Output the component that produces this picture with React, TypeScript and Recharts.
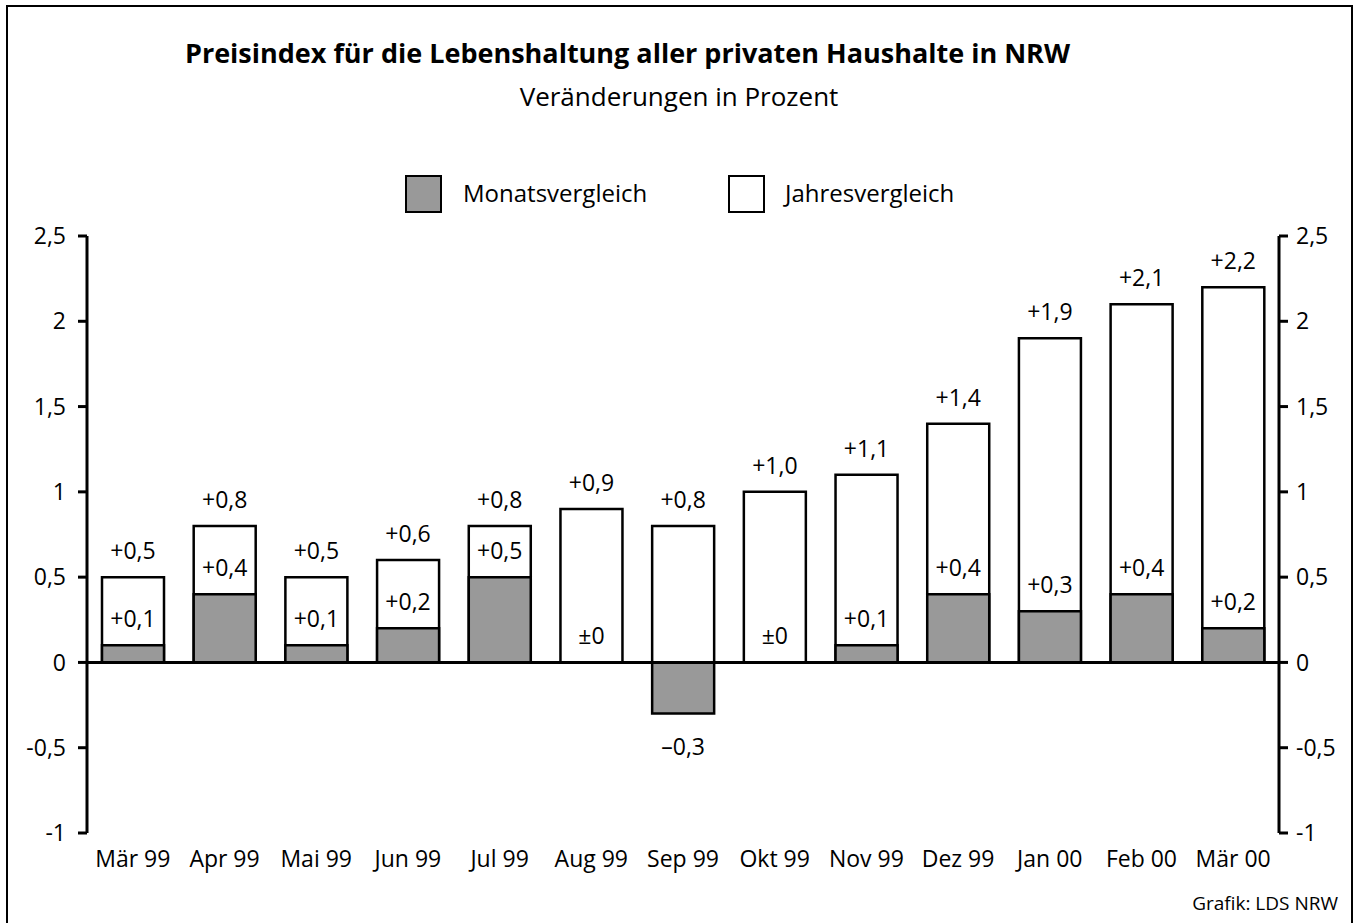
import React from "react";
import { BarChart, Bar, XAxis, YAxis, ReferenceLine, LabelList } from "recharts";

const categories = ["Mär 99", "Apr 99", "Mai 99", "Jun 99", "Jul 99", "Aug 99", "Sep 99", "Okt 99", "Nov 99", "Dez 99", "Jan 00", "Feb 00", "Mär 00"];
const monatsvergleich = [0.1, 0.4, 0.1, 0.2, 0.5, 0, -0.3, 0, 0.1, 0.4, 0.3, 0.4, 0.2];
const jahresvergleich = [0.5, 0.8, 0.5, 0.6, 0.8, 0.9, 0.8, 1.0, 1.1, 1.4, 1.9, 2.1, 2.2];
const yTicks = [-1, -0.5, 0, 0.5, 1, 1.5, 2, 2.5];

const data = categories.map((c, i) => ({ name: c, monat: monatsvergleich[i], jahr: jahresvergleich[i] }));

const FONT = "'Open Sans', sans-serif";
const LABEL_SIZE = 23;

const fmtSigned = (v: number) => {
  if (v === 0) return "±0";
  const s = Math.abs(v).toFixed(1).replace(".", ",");
  return v > 0 ? "+" + s : "–" + s;
};
const fmtTick = (v: number) => String(v).replace(".", ",");

const YearLabel = (props: any) => {
  const { x, y, width, height, value } = props;
  const top = Math.min(y, y + height);
  return (
    <text x={x + width / 2} y={top - 27} textAnchor="middle" dominantBaseline="central" fontSize={LABEL_SIZE} fontFamily={FONT} fill="#000">
      {fmtSigned(value)}
    </text>
  );
};

// monthly labels positioned using the yearly bar's geometry (scale derived from the rendered bar)
const MonthLabel = (props: any) => {
  const { x, y, width, height, value, index } = props;
  const top = Math.min(y, y + height);
  const h = Math.abs(height);
  const zero = top + h;
  const ppu = h / value;
  const m = monatsvergleich[index];
  const mPix = zero - m * ppu;
  const ty = m < 0 ? mPix + 32 : mPix - 27;
  return (
    <text x={x + width / 2} y={ty} textAnchor="middle" dominantBaseline="central" fontSize={LABEL_SIZE} fontFamily={FONT} fill="#000">
      {fmtSigned(m)}
    </text>
  );
};

const tickStyle = { fontSize: 23, fontFamily: FONT, fill: "#000" };

export default function App() {
  return (
    <div style={{ position: "absolute", left: 0, top: 0, width: 1358, height: 923, background: "#fff", fontFamily: FONT, overflow: "hidden" }}>
      <div style={{ position: "absolute", left: 6, top: 5, width: 1343, height: 940, border: "2px solid #000" }} />
      <div style={{ position: "absolute", left: 0, width: 1255, top: 35, textAlign: "center", fontSize: 27, fontWeight: 700, lineHeight: "36px", whiteSpace: "nowrap" }}>
        Preisindex für die Lebenshaltung aller privaten Haushalte in NRW
      </div>
      <div style={{ position: "absolute", left: 0, width: 1358, top: 79, textAlign: "center", fontSize: 26, lineHeight: "34px" }}>
        Veränderungen in Prozent
      </div>
      <div style={{ position: "absolute", left: 405, top: 175, width: 33, height: 34, background: "#999999", border: "2.5px solid #000" }} />
      <div style={{ position: "absolute", left: 463, top: 177, fontSize: 24, lineHeight: "32px" }}>Monatsvergleich</div>
      <div style={{ position: "absolute", left: 728, top: 175, width: 33, height: 34, background: "#fff", border: "2.5px solid #000" }} />
      <div style={{ position: "absolute", left: 785, top: 177, fontSize: 24, lineHeight: "32px" }}>Jahresvergleich</div>
      <div style={{ position: "absolute", right: 20, top: 891, fontSize: 19, lineHeight: "24px" }}>Grafik: LDS NRW</div>
      <div style={{ position: "absolute", left: 0, top: 0 }}>
        <BarChart width={1358} height={923} data={data} margin={{ top: 236, right: 0, bottom: 50, left: 0 }}>
          <XAxis xAxisId="a" dataKey="name" axisLine={false} tickLine={false} height={40} tick={tickStyle} dy={10} interval={0} />
          <XAxis xAxisId="b" dataKey="name" hide />
          <YAxis yAxisId="l" orientation="left" width={87} domain={[-1, 2.5]} ticks={yTicks} tickFormatter={fmtTick} axisLine={{ stroke: "#000", strokeWidth: 3 }} tickLine={{ stroke: "#000", strokeWidth: 3 }} tickSize={9} tick={tickStyle} tickMargin={12} allowDataOverflow />
          <YAxis yAxisId="r" orientation="right" width={79} domain={[-1, 2.5]} ticks={yTicks} tickFormatter={fmtTick} axisLine={{ stroke: "#000", strokeWidth: 3 }} tickLine={{ stroke: "#000", strokeWidth: 3 }} tickSize={9} tick={tickStyle} tickMargin={8} allowDataOverflow />
          <Bar xAxisId="a" yAxisId="l" dataKey="jahr" fill="#fff" stroke="#000" strokeWidth={2.5} barSize={62} isAnimationActive={false}>
            <LabelList dataKey="jahr" content={YearLabel} />
            <LabelList dataKey="jahr" content={MonthLabel} />
          </Bar>
          <Bar xAxisId="b" yAxisId="l" dataKey="monat" fill="#999999" stroke="#000" strokeWidth={2.5} barSize={62} isAnimationActive={false} />
          <ReferenceLine xAxisId="a" yAxisId="l" y={0} stroke="#000" strokeWidth={3} />
        </BarChart>
      </div>
    </div>
  );
}
